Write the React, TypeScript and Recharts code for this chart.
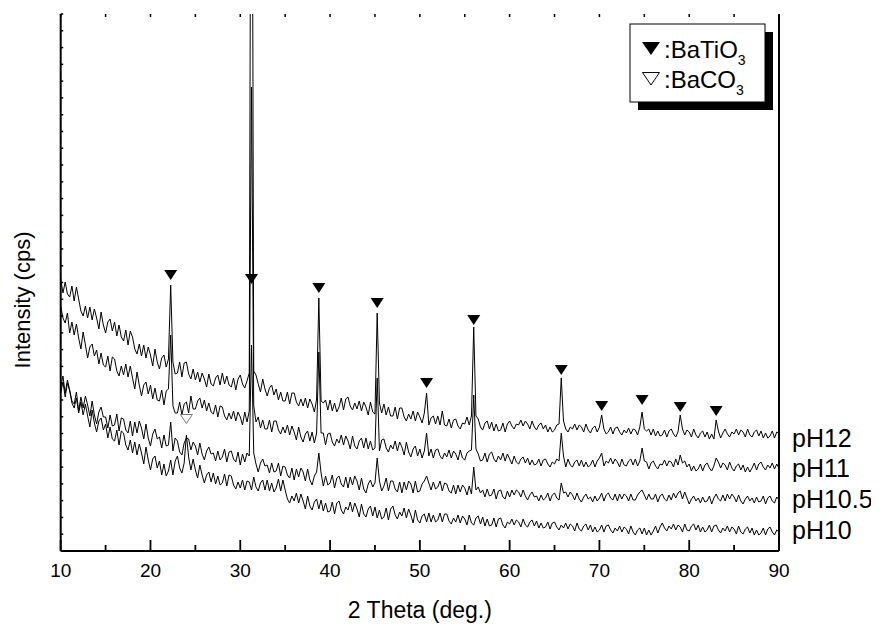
import React from 'react'
import { ComposedChart, Line, Scatter, XAxis, YAxis, Label } from 'recharts'

const FONT = '"Liberation Sans", Arial, sans-serif'

// 2-theta sampling grid: 10..90 deg every 0.25 deg (321 points)
const theta = Array.from({ length: 321 }, (_, i) => 10 + i * 0.25)

// traces (arb. intensity), one value per grid step, 5 degrees per row
const pH12 = [
  272, 258, 269, 257, 254, 265, 250, 264, 252, 240, 235, 245, 233, 244, 231, 242, 233, 222, 239, 226,
  218, 229, 232, 220, 229, 215, 226, 214, 210, 221, 206, 220, 214, 202, 197, 207, 195, 206, 193, 204,
  196, 185, 202, 189, 182, 193, 196, 184, 192, 266, 189, 177, 178, 189, 174, 188, 189, 177, 172, 182,
  171, 179, 169, 178, 172, 164, 177, 167, 165, 173, 176, 166, 178, 167, 175, 166, 164, 173, 161, 172,
  176, 167, 163, 170, 178, 1000, 180, 176, 167, 159, 172, 162, 155, 163, 166, 156, 162, 151, 159, 150,
  150, 159, 147, 158, 158, 149, 145, 152, 145, 153, 143, 152, 147, 139, 152, 253, 150, 148, 151, 141,
  151, 140, 148, 139, 144, 153, 141, 152, 154, 145, 141, 148, 142, 150, 140, 149, 144, 136, 149, 139,
  137, 238, 148, 138, 147, 136, 144, 135, 135, 144, 132, 143, 143, 134, 130, 137, 132, 140, 130, 139,
  134, 128, 138, 158, 126, 133, 135, 127, 135, 126, 140, 126, 125, 132, 123, 131, 132, 125, 122, 128,
  127, 134, 126, 135, 224, 135, 132, 124, 121, 128, 130, 122, 129, 120, 127, 120, 121, 128, 119, 127,
  130, 125, 122, 127, 126, 131, 125, 130, 127, 122, 130, 124, 121, 126, 128, 122, 126, 119, 124, 119,
  121, 126, 127, 173, 130, 122, 119, 124, 122, 127, 121, 126, 124, 119, 127, 121, 118, 123, 125, 119,
  124, 136, 122, 117, 119, 124, 117, 123, 124, 119, 116, 121, 118, 123, 117, 122, 121, 116, 124, 139,
  122, 120, 122, 116, 122, 115, 120, 115, 116, 121, 114, 120, 122, 117, 114, 119, 136, 122, 116, 121,
  119, 114, 122, 116, 113, 118, 120, 114, 119, 112, 117, 112, 131, 120, 113, 118, 122, 117, 114, 119,
  117, 122, 116, 121, 119, 114, 122, 116, 114, 119, 121, 115, 120, 113, 118, 113, 115, 120, 113, 119,
  118,
]
const pH11 = [
  245, 233, 228, 238, 218, 229, 216, 227, 213, 202, 219, 206, 193, 204, 207, 195, 201, 187, 198, 186,
  184, 195, 180, 194, 192, 180, 175, 185, 176, 187, 174, 185, 173, 162, 179, 166, 155, 166, 169, 157,
  166, 152, 163, 151, 150, 161, 146, 160, 162, 216, 145, 138, 138, 149, 136, 147, 149, 138, 155, 142,
  142, 150, 153, 143, 151, 140, 148, 139, 137, 146, 134, 145, 144, 135, 131, 138, 132, 140, 130, 139,
  134, 126, 139, 129, 140, 464, 145, 129, 134, 123, 131, 122, 122, 131, 119, 130, 130, 121, 117, 124,
  118, 126, 116, 125, 119, 111, 124, 114, 109, 117, 120, 110, 119, 108, 118, 199, 118, 118, 106, 117,
  118, 109, 105, 112, 108, 116, 106, 115, 110, 102, 115, 105, 102, 110, 113, 103, 113, 102, 110, 101,
  103, 173, 100, 111, 112, 103, 99, 106, 102, 110, 100, 109, 104, 96, 109, 99, 94, 102, 105, 95,
  102, 93, 100, 118, 95, 102, 93, 101, 102, 95, 92, 98, 94, 101, 93, 100, 97, 91, 101, 93,
  91, 98, 100, 101, 156, 102, 97, 90, 91, 98, 89, 97, 99, 92, 89, 95, 91, 98, 90, 97,
  92, 87, 95, 89, 87, 92, 94, 88, 93, 86, 91, 86, 87, 92, 85, 91, 92, 87, 84, 89,
  87, 92, 90, 118, 95, 84, 92, 86, 84, 89, 91, 85, 91, 84, 89, 84, 86, 91, 84, 90,
  93, 98, 85, 90, 88, 93, 87, 92, 89, 84, 92, 86, 85, 90, 92, 86, 92, 85, 90, 103,
  90, 89, 82, 88, 90, 85, 82, 87, 86, 91, 85, 90, 89, 84, 92, 86, 96, 88, 90, 84,
  87, 80, 85, 80, 82, 87, 80, 86, 88, 83, 80, 85, 93, 89, 83, 88, 86, 81, 89, 83,
  80, 85, 87, 81, 86, 79, 84, 79, 83, 88, 81, 87, 89, 84, 81, 86, 83, 88, 82, 87,
  83,
]
const pH105 = [
  164, 175, 158, 171, 161, 150, 147, 159, 140, 154, 143, 155, 146, 135, 150, 136, 127, 139, 144, 134,
  134, 123, 136, 125, 126, 137, 120, 133, 132, 121, 118, 130, 115, 129, 118, 130, 123, 112, 127, 113,
  105, 117, 122, 112, 114, 103, 116, 105, 106, 129, 100, 113, 110, 99, 96, 108, 113, 112, 101, 109,
  105, 96, 108, 97, 91, 100, 104, 97, 98, 90, 100, 91, 94, 102, 89, 99, 100, 92, 89, 99,
  86, 97, 89, 98, 95, 206, 98, 87, 79, 88, 92, 85, 86, 78, 88, 79, 80, 88, 75, 85,
  84, 76, 73, 83, 71, 82, 74, 83, 79, 70, 82, 71, 66, 75, 79, 98, 78, 65, 75, 66,
  68, 76, 63, 73, 75, 67, 64, 74, 63, 74, 66, 75, 70, 61, 73, 62, 58, 67, 71, 64,
  68, 93, 70, 60, 65, 73, 60, 70, 70, 62, 59, 69, 58, 69, 61, 70, 67, 58, 70, 59,
  60, 67, 70, 75, 68, 61, 69, 62, 64, 70, 60, 68, 67, 60, 58, 66, 57, 66, 59, 66,
  63, 56, 65, 57, 84, 61, 64, 58, 61, 54, 62, 55, 56, 62, 52, 60, 61, 54, 52, 60,
  54, 61, 56, 61, 59, 54, 61, 55, 51, 56, 59, 54, 55, 50, 56, 51, 53, 58, 50, 56,
  58, 53, 51, 68, 58, 59, 54, 59, 56, 51, 58, 52, 49, 54, 57, 52, 54, 49, 55, 50,
  53, 58, 50, 56, 58, 53, 51, 57, 50, 57, 52, 57, 55, 50, 57, 51, 51, 56, 59, 61,
  56, 51, 57, 52, 52, 57, 49, 55, 57, 52, 50, 56, 51, 58, 53, 58, 60, 52, 59, 53,
  47, 52, 55, 50, 53, 48, 54, 49, 50, 55, 47, 53, 57, 52, 50, 56, 50, 57, 52, 57,
  54, 49, 56, 50, 47, 52, 55, 50, 53, 48, 54, 49, 50, 55, 47, 53, 55, 50, 48, 54,
  51,
]
const pH10 = [
  158, 169, 154, 168, 160, 148, 143, 153, 138, 149, 136, 147, 135, 124, 141, 128, 119, 130, 133, 121,
  127, 113, 124, 112, 110, 121, 106, 120, 118, 106, 101, 111, 98, 109, 96, 107, 98, 87, 104, 91,
  81, 92, 95, 83, 90, 76, 87, 75, 80, 91, 76, 90, 95, 83, 78, 88, 116, 94, 81, 92,
  81, 73, 86, 76, 68, 76, 79, 69, 78, 67, 75, 66, 68, 77, 65, 76, 75, 66, 62, 69,
  63, 71, 61, 70, 69, 61, 74, 64, 60, 68, 71, 61, 71, 60, 68, 59, 63, 72, 60, 71,
  61, 52, 48, 55, 50, 58, 48, 57, 50, 42, 55, 45, 41, 49, 52, 42, 51, 40, 48, 39,
  40, 49, 37, 48, 50, 41, 37, 44, 41, 49, 39, 48, 42, 34, 47, 37, 34, 42, 45, 35,
  44, 33, 41, 32, 34, 43, 31, 42, 45, 36, 32, 39, 35, 43, 33, 42, 36, 28, 41, 31,
  28, 35, 37, 29, 38, 29, 36, 29, 31, 38, 29, 37, 37, 30, 27, 33, 29, 36, 28, 35,
  32, 26, 36, 28, 26, 33, 35, 27, 34, 25, 32, 25, 26, 33, 24, 32, 33, 26, 23, 29,
  27, 32, 26, 31, 29, 24, 32, 26, 24, 29, 31, 25, 30, 23, 28, 23, 24, 29, 22, 28,
  29, 24, 21, 26, 23, 28, 22, 27, 25, 20, 28, 22, 20, 25, 27, 21, 26, 19, 24, 19,
  21, 26, 19, 25, 26, 21, 18, 23, 20, 25, 19, 24, 22, 17, 25, 19, 16, 21, 23, 17,
  23, 16, 21, 16, 20, 25, 18, 24, 28, 23, 20, 25, 22, 27, 21, 26, 24, 19, 27, 21,
  20, 25, 27, 21, 26, 19, 24, 19, 21, 26, 19, 25, 26, 21, 18, 23, 20, 25, 19, 24,
  22, 17, 25, 19, 17, 22, 24, 18, 23, 16, 21, 16, 18, 23, 16, 22, 24, 19, 16, 21,
  19,
]

// phase markers [2theta, marker height]
const batio3Marks = [[22.25, 276], [31.25, 272], [38.75, 263], [45.25, 248], [50.75, 168], [56, 231], [65.75, 181], [70.25, 145], [74.75, 151], [79, 144], [83, 140]]
const baco3Marks = [[24, 132]]

const xMajor = [10, 20, 30, 40, 50, 60, 70, 80, 90]
const xMinor = [15, 25, 35, 45, 55, 65, 75, 85]
const xTicks = [10, 15, 20, 25, 30, 35, 40, 45, 50, 55, 60, 65, 70, 75, 80, 85, 90]
const Y_MAX = 537
const yTicks = Array.from({ length: 33 }, (_, i) => (i * Y_MAX) / 32)

const toRows = (vals: number[]) => vals.map((v, i) => ({ t: theta[i], v }))
const toPts = (arr: number[][]) => arr.map(([t, v]) => ({ t, v }))

const series = [
  { name: 'pH12', data: toRows(pH12), labelY: 439 },
  { name: 'pH11', data: toRows(pH11), labelY: 469 },
  { name: 'pH10.5', data: toRows(pH105), labelY: 500 },
  { name: 'pH10', data: toRows(pH10), labelY: 531 },
]

const W = 871
const H = 617

function BottomTick(props: any) {
  const { x, y, payload } = props
  if (payload.value % 10 !== 0) return <g />
  return (
    <text x={x} y={y + 26} textAnchor="middle" fontSize={19} fill="#000" fontFamily={FONT}>
      {payload.value}
    </text>
  )
}

function SideTick(props: any) {
  const { x, y } = props
  return <rect x={x} y={y - 0.75} width={2.5} height={1.5} fill="#000" />
}

// inward tick marks drawn as scatter glyphs so they sit on the axis scale
const tickUp = (len: number) => (props: any) => (
  <rect x={props.cx - 0.9} y={props.cy - len} width={1.8} height={len} fill="#000" />
)
const tickDown = (len: number) => (props: any) => (
  <rect x={props.cx - 0.75} y={props.cy} width={1.5} height={len} fill="#000" />
)

function FilledTri(props: any) {
  const { cx, cy } = props
  return <polygon points={`${cx - 6.5},${cy - 5} ${cx + 6.5},${cy - 5} ${cx},${cy + 5}`} fill="#000" />
}

function OpenTri(props: any) {
  const { cx, cy } = props
  return <polygon points={`${cx - 6},${cy - 4.5} ${cx + 6},${cy - 4.5} ${cx},${cy + 4.5}`} fill="#fff" stroke="#777" strokeWidth={1} />
}

export default function App() {
  return (
    <div style={{ position: 'relative', width: W, height: H, fontFamily: FONT }}>
      <ComposedChart width={W} height={H} margin={{ top: 6, right: 0, bottom: 0, left: 0 }}>
        <XAxis
          xAxisId="b"
          type="number"
          dataKey="t"
          domain={[10, 90]}
          ticks={xTicks}
          interval={0}
          height={74}
          tickSize={0}
          tickMargin={0}
          tickLine={false}
          axisLine={{ stroke: '#000', strokeWidth: 2 }}
          tick={BottomTick}
        >
          <Label value="2 Theta (deg.)" position="insideBottom" offset={7} style={{ fontSize: 23, fill: '#000', fontFamily: FONT }} />
        </XAxis>
        <XAxis
          xAxisId="t"
          orientation="top"
          type="number"
          dataKey="t"
          domain={[10, 90]}
          height={0}
          tick={false}
          tickLine={false}
          axisLine={{ stroke: '#000', strokeWidth: 2 }}
        />
        <YAxis
          yAxisId="l"
          type="number"
          domain={[0, Y_MAX]}
          allowDataOverflow
          ticks={yTicks}
          interval={0}
          width={52.7}
          tickSize={0}
          tickMargin={0}
          tickLine={false}
          axisLine={{ stroke: '#000', strokeWidth: 2 }}
          tick={SideTick}
        >
          <Label
            content={() => (
              <text x={22} y={292} transform="rotate(-90 22 292)" textAnchor="middle" fontSize={22} fill="#000" fontFamily={FONT}>
                Intensity (cps)
              </text>
            )}
          />
        </YAxis>
        <YAxis
          yAxisId="r"
          orientation="right"
          type="number"
          domain={[0, Y_MAX]}
          ticks={yTicks}
          interval={0}
          width={100}
          tickSize={0}
          tickMargin={0}
          tickLine={false}
          axisLine={{ stroke: '#000', strokeWidth: 2 }}
          tick={SideTick}
        />
        {series.map((s) => (
          <Line
            key={s.name}
            data={s.data}
            dataKey="v"
            xAxisId="b"
            yAxisId="l"
            type="linear"
            stroke="#000"
            strokeWidth={1}
            dot={false}
            isAnimationActive={false}
          />
        ))}
        <Scatter data={xMajor.map((t) => ({ t, v: 0 }))} dataKey="v" xAxisId="b" yAxisId="l" shape={tickUp(11)} isAnimationActive={false} />
        <Scatter data={xMinor.map((t) => ({ t, v: 0 }))} dataKey="v" xAxisId="b" yAxisId="l" shape={tickUp(6)} isAnimationActive={false} />
        <Scatter data={xTicks.map((t) => ({ t, v: Y_MAX }))} dataKey="v" xAxisId="b" yAxisId="l" shape={tickDown(3)} isAnimationActive={false} />
        <Scatter data={toPts(batio3Marks)} dataKey="v" xAxisId="b" yAxisId="l" shape={FilledTri} isAnimationActive={false} />
        <Scatter data={toPts(baco3Marks)} dataKey="v" xAxisId="b" yAxisId="l" shape={OpenTri} isAnimationActive={false} />
      </ComposedChart>
      <svg width={W} height={H} style={{ position: 'absolute', left: 0, top: 0, pointerEvents: 'none' }}>
        {series.map((s) => (
          <text key={s.name} x={784} y={s.labelY} fontSize={25} fill="#000" fontFamily={FONT}>
            {s.name}
          </text>
        ))}
        <rect x={630} y={24} width={135} height={78} fill="#000" />
        <rect x={622} y={16} width={135} height={78} fill="#fff" stroke="#000" strokeWidth={1} />
        <polygon points="634,34 652,34 643,47" fill="#000" />
        <text x={656} y={50} fontSize={24} fill="#000" fontFamily={FONT}>
          :BaTiO<tspan dy={7} fontSize={14}>3</tspan>
        </text>
        <polygon points="634.5,64.5 651.5,64.5 643,77" fill="#fff" stroke="#000" strokeWidth={1} />
        <text x={656} y={80} fontSize={24} fill="#000" fontFamily={FONT}>
          :BaCO<tspan dy={7} fontSize={14}>3</tspan>
        </text>
      </svg>
    </div>
  )
}
